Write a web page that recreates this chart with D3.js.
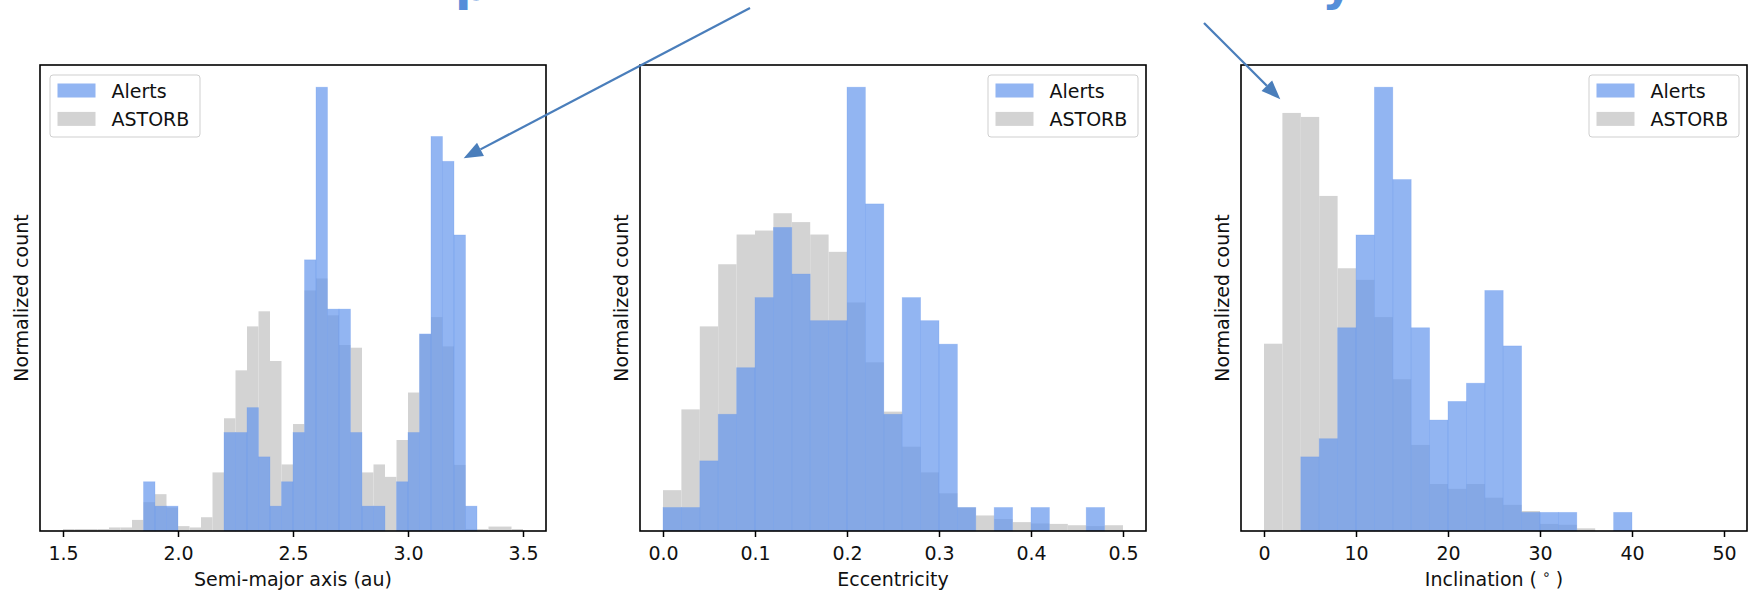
<!DOCTYPE html>
<html>
<head>
<meta charset="utf-8">
<script src="https://cdn.jsdelivr.net/npm/d3@7"></script>
<style>
  body { margin: 0; background: #fff; }
  text { font-family: "DejaVu Sans", sans-serif; }
</style>
</head>
<body>
<div id="chart"></div>
<script>
    // histogram heights, normalized to the alerts peak of each panel
    const semiBin = 0.05;
    const semiAlertsStart = 1.85;
    const semiAlerts = [0.111, 0.056, 0.056, 0, 0, 0, 0, 0.222, 0.222, 0.278, 0.167, 0.056, 0.111, 0.222,
        0.611, 1.0, 0.5, 0.5, 0.222, 0.056, 0.056, 0, 0.111, 0.222, 0.444, 0.889, 0.833, 0.667, 0.056];
    const semiAstorbStart = 1.5;
    const semiAstorb = [0.0045, 0.0045, 0.0045, 0.0045, 0.008, 0.008, 0.025, 0.065, 0.083, 0.053,
        0.011, 0.008, 0.031, 0.132, 0.254, 0.362, 0.461, 0.495, 0.383, 0.150,
        0.241, 0.542, 0.569, 0.486, 0.419, 0.413, 0.132, 0.150, 0.122, 0.205,
        0.312, 0.443, 0.482, 0.416, 0.149, 0.0045, 0.0045, 0.010, 0.010, 0.0045];

    const eccBin = 0.02;
    const eccAlertsStart = 0;
    const eccAlerts = [0.053, 0.053, 0.158, 0.263, 0.368, 0.526, 0.684, 0.579, 0.474, 0.474, 1.0, 0.737,
        0.263, 0.526, 0.474, 0.421, 0.053, 0, 0.053, 0, 0.053, 0, 0, 0.053, 0];
    const eccAstorbStart = 0;
    const eccAstorb = [0.092, 0.274, 0.461, 0.601, 0.668, 0.677, 0.716, 0.696, 0.668, 0.629, 0.515, 0.380,
        0.269, 0.190, 0.132, 0.085, 0.053, 0.035, 0.027, 0.020, 0.017, 0.016, 0.013, 0.011, 0.013];

    const incBin = 2;
    const incAlertsStart = 4;
    const incAlerts = [0.167, 0.208, 0.458, 0.667, 1.0, 0.792, 0.458, 0.25, 0.292, 0.333, 0.542, 0.417,
        0.042, 0.042, 0.042, 0, 0, 0.042];
    const incAstorbStart = 0;
    const incAstorb = [0.422, 0.942, 0.933, 0.755, 0.592, 0.566, 0.482, 0.342, 0.194, 0.106, 0.095, 0.106,
        0.075, 0.059, 0.045, 0.016, 0.014, 0.006];

    const semiTicks = [1.5, 2.0, 2.5, 3.0, 3.5];
    const eccTicks = [0.0, 0.1, 0.2, 0.3, 0.4, 0.5];
    const incTicks = [0, 10, 20, 30, 40, 50];

    const seriesNames = ["Alerts", "ASTORB"];

    const panels = [
        {alerts: semiAlerts, alertsStart: semiAlertsStart, astorb: semiAstorb, astorbStart: semiAstorbStart,
         bin: semiBin, domain: [1.4, 3.6], ticks: semiTicks, fmt: d3.format(".1f"),
         label: "Semi-major axis (au)", unit: null, legend: "left"},
        {alerts: eccAlerts, alertsStart: eccAlertsStart, astorb: eccAstorb, astorbStart: eccAstorbStart,
         bin: eccBin, domain: [-0.025, 0.525], ticks: eccTicks, fmt: d3.format(".1f"),
         label: "Eccentricity", unit: null, legend: "right"},
        {alerts: incAlerts, alertsStart: incAlertsStart, astorb: incAstorb, astorbStart: incAstorbStart,
         bin: incBin, domain: [-2.5, 52.5], ticks: incTicks, fmt: d3.format("d"),
         label: "Inclination (", unit: "\u2218", legend: "right"}
    ];

    // arrows: start in page pixels, tip in data units of a panel
    const arrows = [
        {panel: 0, from: [750, 8], to: [3.242, 0.84]},
        {panel: 2, from: [1204, 23], to: [1.77, 0.973]}
    ];

    const width = 1750, height = 591;
    const lefts = [40, 640, 1241];
    const marginTop = 65, pw = 506, ph = 466;
    const blue = "#6495ed", gray = "#d3d3d3";

    const svg = d3.select("#chart").append("svg")
        .attr("width", width)
        .attr("height", height);

    // title pieces cut by the top edge
    svg.append("text").attr("x", 455).attr("y", 0)
        .style("font-size", "48px").style("font-weight", "bold").attr("fill", "#558ed9").text("p");
    svg.append("text").attr("x", 1322).attr("y", 0)
        .style("font-size", "48px").style("font-weight", "bold").attr("fill", "#558ed9").text("y");

    const scales = [];

    panels.forEach(function(p, i) {
        const g = svg.append("g").attr("transform", `translate(${lefts[i]},${marginTop})`);

        const x = d3.scaleLinear().domain(p.domain).range([0, pw]);
        const y = d3.scaleLinear().domain([0, 1.05]).range([ph, 0]);
        scales.push({x: x, y: y, left: lefts[i]});

        const astorbBins = p.astorb.map((v, k) => ({x0: p.astorbStart + k * p.bin, v: v}));
        const alertBins = p.alerts.map((v, k) => ({x0: p.alertsStart + k * p.bin, v: v}));

        g.selectAll("rect.astorb")
            .data(astorbBins.filter(d => d.v > 0))
            .join("rect")
            .attr("class", "astorb")
            .attr("x", d => x(d.x0))
            .attr("width", d => x(d.x0 + p.bin) - x(d.x0))
            .attr("y", d => y(d.v))
            .attr("height", d => ph - y(d.v))
            .attr("fill", gray);

        g.selectAll("rect.alerts")
            .data(alertBins.filter(d => d.v > 0))
            .join("rect")
            .attr("class", "alerts")
            .attr("x", d => x(d.x0))
            .attr("width", d => x(d.x0 + p.bin) - x(d.x0))
            .attr("y", d => y(d.v))
            .attr("height", d => ph - y(d.v))
            .attr("fill", blue)
            .attr("fill-opacity", 0.7)
            .attr("stroke", blue)
            .attr("stroke-opacity", 0.3)
            .attr("stroke-width", 0.8);

        // X axis
        const ax = g.append("g")
            .attr("transform", `translate(0,${ph})`)
            .call(d3.axisBottom(x).tickValues(p.ticks).tickFormat(p.fmt).tickSizeOuter(0).tickSizeInner(6));
        ax.select(".domain").remove();
        ax.selectAll(".tick line").attr("stroke", "#000").attr("stroke-width", 1.5);
        ax.selectAll(".tick text")
            .attr("y", 29).attr("dy", null)
            .attr("fill", "#111")
            .style("font-size", "19px")
            .style("font-family", "'DejaVu Sans', sans-serif");

        // frame
        g.append("rect")
            .attr("width", pw).attr("height", ph)
            .attr("fill", "none")
            .attr("stroke", "#000")
            .attr("stroke-width", 1.6);

        // axis labels
        const xl = g.append("text")
            .attr("x", pw / 2).attr("y", 521)
            .attr("text-anchor", "middle")
            .style("font-size", "19px")
            .attr("fill", "#111")
            .text(p.label);
        if (p.unit) {
            xl.append("tspan").attr("dx", 5).attr("dy", -7)
                .style("font-size", "14px").text(p.unit);
            xl.append("tspan").attr("dx", 5).attr("dy", 7).text(")");
        }
        g.append("text")
            .attr("transform", `translate(-12,${ph / 2}) rotate(-90)`)
            .attr("text-anchor", "middle")
            .style("font-size", "19px")
            .attr("fill", "#111")
            .text("Normalized count");

        // legend
        const lx = p.legend === "left" ? 10 : pw - 158;
        const lg = g.append("g").attr("transform", `translate(${lx},10)`);
        lg.append("rect")
            .attr("width", 150).attr("height", 62)
            .attr("rx", 3)
            .attr("fill", "#fff").attr("fill-opacity", 0.8)
            .attr("stroke", "#cfcfcf").attr("stroke-width", 1);
        seriesNames.forEach(function(name, k) {
            lg.append("rect")
                .attr("x", 7.5).attr("y", 8.5 + k * 28.4)
                .attr("width", 38).attr("height", 14)
                .attr("fill", k === 0 ? blue : gray)
                .attr("fill-opacity", k === 0 ? 0.7 : 1);
            lg.append("text")
                .attr("x", 61.5).attr("y", 22.6 + k * 28.4)
                .style("font-size", "19px")
                .attr("fill", "#111")
                .text(name);
        });
    });

    // arrows
    const arrowColor = "#4a7ebb";
    arrows.forEach(function(a) {
        const s = scales[a.panel];
        const tx = s.left + s.x(a.to[0]);
        const ty = marginTop + s.y(a.to[1]);
        const dx = tx - a.from[0], dy = ty - a.from[1];
        const len = Math.hypot(dx, dy);
        const ux = dx / len, uy = dy / len;
        const headLen = 19, headW = 7.5;
        const bx = tx - ux * headLen, by = ty - uy * headLen;
        svg.append("line")
            .attr("x1", a.from[0]).attr("y1", a.from[1])
            .attr("x2", bx).attr("y2", by)
            .attr("stroke", arrowColor)
            .attr("stroke-width", 2.25);
        svg.append("polygon")
            .attr("points", [[tx, ty], [bx - uy * headW, by + ux * headW], [bx + uy * headW, by - ux * headW]].map(d => d.join(",")).join(" "))
            .attr("fill", arrowColor);
    });
</script>
</body>
</html>
